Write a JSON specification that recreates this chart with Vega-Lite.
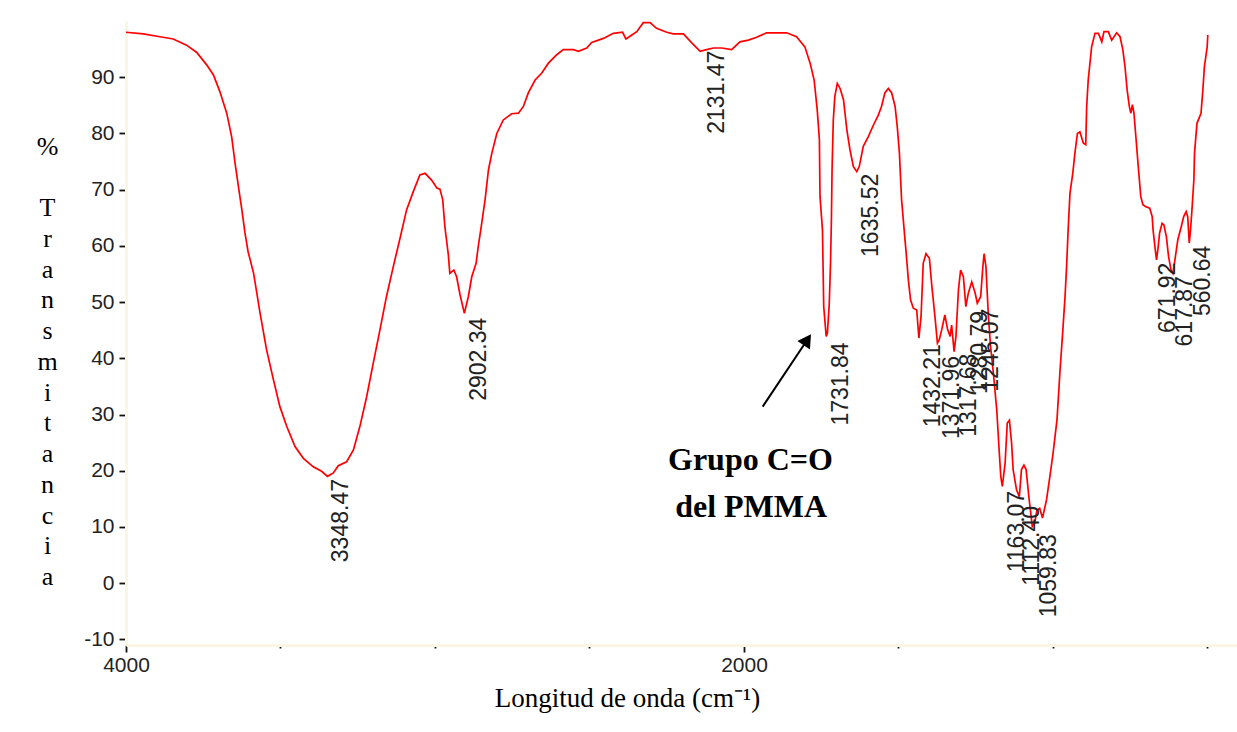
{
  "$schema": "https://vega.github.io/schema/vega-lite/v6.json",
  "width": 1111,
  "height": 624,
  "autosize": {"type": "none"},
  "padding": {"left": 126, "top": 21, "right": 0, "bottom": 87},
  "background": "white",
  "config": {"view": {"stroke": null}},
  "datasets": {
    "spectrum": [
      {"wn":4000,"T":98.0},{"wn":3944,"T":97.7},{"wn":3890,"T":97.2},{"wn":3847,"T":96.8},{"wn":3804,"T":95.7},
      {"wn":3771,"T":94.4},{"wn":3739,"T":92.2},{"wn":3717,"T":90.4},{"wn":3696,"T":87.4},{"wn":3674,"T":83.6},
      {"wn":3658,"T":79.4},{"wn":3647,"T":74.7},{"wn":3636,"T":70.5},{"wn":3625,"T":66.4},{"wn":3615,"T":62.3},
      {"wn":3605,"T":59.0},{"wn":3587,"T":55.1},{"wn":3566,"T":48.0},{"wn":3545,"T":41.5},{"wn":3523,"T":36.2},
      {"wn":3502,"T":31.4},{"wn":3480,"T":27.9},{"wn":3453,"T":24.3},{"wn":3426,"T":22.2},{"wn":3394,"T":20.7},
      {"wn":3367,"T":19.9},{"wn":3348,"T":19.0},{"wn":3329,"T":19.6},{"wn":3313,"T":20.9},{"wn":3286,"T":21.6},
      {"wn":3264,"T":23.7},{"wn":3243,"T":27.9},{"wn":3221,"T":33.2},{"wn":3200,"T":39.1},{"wn":3178,"T":45.1},
      {"wn":3157,"T":51.0},{"wn":3135,"T":56.3},{"wn":3113,"T":61.4},{"wn":3092,"T":66.4},{"wn":3070,"T":69.7},
      {"wn":3049,"T":72.6},{"wn":3032,"T":72.9},{"wn":3011,"T":71.7},{"wn":2994,"T":70.3},{"wn":2984,"T":70.1},
      {"wn":2975,"T":68.2},{"wn":2968,"T":63.4},{"wn":2957,"T":58.5},{"wn":2952,"T":55.1},{"wn":2939,"T":55.7},
      {"wn":2930,"T":54.5},{"wn":2919,"T":51.3},{"wn":2905,"T":48.0},{"wn":2892,"T":51.0},{"wn":2881,"T":54.5},
      {"wn":2867,"T":56.9},{"wn":2860,"T":59.9},{"wn":2852,"T":62.8},{"wn":2838,"T":68.2},{"wn":2827,"T":73.5},
      {"wn":2816,"T":76.5},{"wn":2800,"T":80.0},{"wn":2779,"T":82.4},{"wn":2752,"T":83.5},{"wn":2730,"T":83.6},
      {"wn":2714,"T":84.8},{"wn":2698,"T":87.2},{"wn":2676,"T":89.5},{"wn":2655,"T":90.7},{"wn":2633,"T":92.5},
      {"wn":2606,"T":94.0},{"wn":2585,"T":94.9},{"wn":2552,"T":94.9},{"wn":2536,"T":94.6},{"wn":2509,"T":95.2},
      {"wn":2493,"T":96.2},{"wn":2455,"T":96.9},{"wn":2423,"T":97.8},{"wn":2393,"T":98.0},{"wn":2382,"T":96.8},
      {"wn":2363,"T":97.5},{"wn":2347,"T":98.1},{"wn":2326,"T":99.7},{"wn":2304,"T":99.7},{"wn":2283,"T":98.7},
      {"wn":2250,"T":98.0},{"wn":2229,"T":97.7},{"wn":2196,"T":97.7},{"wn":2169,"T":96.1},{"wn":2142,"T":94.6},
      {"wn":2121,"T":94.9},{"wn":2099,"T":95.2},{"wn":2072,"T":95.2},{"wn":2040,"T":94.9},{"wn":2013,"T":96.3},
      {"wn":1986,"T":96.6},{"wn":1959,"T":97.1},{"wn":1927,"T":97.9},{"wn":1862,"T":97.9},{"wn":1830,"T":97.2},
      {"wn":1803,"T":95.4},{"wn":1786,"T":92.5},{"wn":1773,"T":89.5},{"wn":1763,"T":84.2},{"wn":1756,"T":78.9},
      {"wn":1754,"T":68.8},{"wn":1746,"T":62.8},{"wn":1742,"T":49.2},{"wn":1734,"T":43.9},{"wn":1730,"T":44.5},
      {"wn":1724,"T":49.8},{"wn":1720,"T":56.9},{"wn":1717,"T":65.0},{"wn":1715,"T":73.5},{"wn":1711,"T":82.4},
      {"wn":1706,"T":86.6},{"wn":1698,"T":88.9},{"wn":1689,"T":88.0},{"wn":1678,"T":86.0},{"wn":1667,"T":80.6},
      {"wn":1657,"T":77.1},{"wn":1646,"T":74.1},{"wn":1635,"T":73.2},{"wn":1627,"T":74.1},{"wn":1614,"T":77.7},
      {"wn":1598,"T":79.4},{"wn":1581,"T":81.5},{"wn":1565,"T":83.3},{"wn":1555,"T":84.8},{"wn":1544,"T":87.2},
      {"wn":1533,"T":88.0},{"wn":1522,"T":87.2},{"wn":1511,"T":84.8},{"wn":1504,"T":81.2},{"wn":1497,"T":76.5},
      {"wn":1490,"T":68.2},{"wn":1479,"T":61.1},{"wn":1476,"T":59.3},{"wn":1468,"T":53.9},{"wn":1461,"T":50.4},
      {"wn":1452,"T":48.9},{"wn":1441,"T":48.6},{"wn":1434,"T":43.6},{"wn":1427,"T":47.4},{"wn":1420,"T":56.9},
      {"wn":1411,"T":58.6},{"wn":1400,"T":57.8},{"wn":1392,"T":52.8},{"wn":1382,"T":47.4},{"wn":1374,"T":42.7},
      {"wn":1368,"T":43.3},{"wn":1360,"T":45.1},{"wn":1350,"T":47.7},{"wn":1341,"T":45.1},{"wn":1333,"T":43.9},
      {"wn":1328,"T":45.9},{"wn":1320,"T":41.2},{"wn":1314,"T":43.9},{"wn":1306,"T":52.2},{"wn":1299,"T":55.7},
      {"wn":1290,"T":54.5},{"wn":1282,"T":49.2},{"wn":1274,"T":51.6},{"wn":1263,"T":53.6},{"wn":1252,"T":51.6},
      {"wn":1245,"T":49.8},{"wn":1234,"T":51.0},{"wn":1227,"T":56.3},{"wn":1223,"T":58.6},{"wn":1217,"T":56.3},
      {"wn":1209,"T":47.4},{"wn":1202,"T":42.1},{"wn":1193,"T":37.4},{"wn":1182,"T":30.8},{"wn":1175,"T":24.3},
      {"wn":1169,"T":19.0},{"wn":1164,"T":17.2},{"wn":1155,"T":21.3},{"wn":1148,"T":28.5},{"wn":1141,"T":29.0},
      {"wn":1134,"T":24.9},{"wn":1129,"T":20.2},{"wn":1118,"T":16.6},{"wn":1109,"T":15.4},{"wn":1102,"T":20.2},
      {"wn":1094,"T":21.0},{"wn":1087,"T":20.2},{"wn":1077,"T":14.8},{"wn":1067,"T":10.1},{"wn":1059,"T":10.7},
      {"wn":1052,"T":13.0},{"wn":1043,"T":13.3},{"wn":1034,"T":11.6},{"wn":1021,"T":14.8},{"wn":1010,"T":19.0},
      {"wn":1000,"T":23.0},{"wn":987,"T":29.1},{"wn":977,"T":38.0},{"wn":968,"T":45.1},{"wn":961,"T":51.0},
      {"wn":956,"T":56.3},{"wn":951,"T":62.8},{"wn":945,"T":69.4},{"wn":936,"T":72.9},{"wn":929,"T":76.5},
      {"wn":921,"T":80.0},{"wn":913,"T":80.3},{"wn":902,"T":78.3},{"wn":894,"T":78.0},{"wn":891,"T":84.8},
      {"wn":886,"T":89.5},{"wn":875,"T":95.4},{"wn":864,"T":97.8},{"wn":853,"T":97.8},{"wn":842,"T":96.3},
      {"wn":835,"T":98.1},{"wn":821,"T":98.1},{"wn":810,"T":96.6},{"wn":794,"T":97.9},{"wn":783,"T":97.2},
      {"wn":774,"T":94.9},{"wn":767,"T":91.9},{"wn":760,"T":87.7},{"wn":753,"T":84.8},{"wn":748,"T":83.6},
      {"wn":743,"T":85.1},{"wn":738,"T":83.6},{"wn":731,"T":78.9},{"wn":724,"T":74.1},{"wn":716,"T":68.8},
      {"wn":709,"T":67.3},{"wn":701,"T":67.0},{"wn":687,"T":66.7},{"wn":679,"T":65.2},{"wn":676,"T":62.8},
      {"wn":669,"T":59.3},{"wn":665,"T":57.5},{"wn":660,"T":59.6},{"wn":655,"T":62.3},{"wn":647,"T":64.0},
      {"wn":641,"T":63.7},{"wn":633,"T":61.6},{"wn":626,"T":58.1},{"wn":618,"T":55.7},{"wn":612,"T":55.1},
      {"wn":607,"T":56.9},{"wn":596,"T":61.1},{"wn":585,"T":63.4},{"wn":577,"T":65.2},{"wn":569,"T":66.1},
      {"wn":564,"T":65.2},{"wn":559,"T":60.5},{"wn":555,"T":62.8},{"wn":551,"T":65.8},{"wn":544,"T":71.8},
      {"wn":542,"T":76.5},{"wn":534,"T":81.8},{"wn":521,"T":83.6},{"wn":515,"T":87.7},{"wn":510,"T":91.9},
      {"wn":501,"T":95.4},{"wn":499,"T":97.5}
    ],
    "peaks": [
      {"wn":3348.47,"T":18.7,"label":"3348.47"},
      {"wn":2902.34,"T":47.4,"label":"2902.34"},
      {"wn":2131.47,"T":94.9,"label":"2131.47"},
      {"wn":1731.84,"T":43.0,"label":"1731.84"},
      {"wn":1635.52,"T":73.0,"label":"1635.52"},
      {"wn":1432.21,"T":42.7,"label":"1432.21"},
      {"wn":1371.96,"T":40.6,"label":"1371.96"},
      {"wn":1317.68,"T":41.0,"label":"1317.68"},
      {"wn":1280.79,"T":48.6,"label":"1280.79"},
      {"wn":1245.07,"T":49.0,"label":"1245.07"},
      {"wn":1163.07,"T":16.6,"label":"1163.07"},
      {"wn":1112.40,"T":13.9,"label":"1112.40"},
      {"wn":1059.83,"T":8.9,"label":"1059.83"},
      {"wn":671.92,"T":57.2,"label":"671.92"},
      {"wn":617.87,"T":54.8,"label":"617.87"},
      {"wn":560.64,"T":60.2,"label":"560.64"}
    ],
    "note": [
      {"wn":1979,"T":20.2,"text":"Grupo C=O"},
      {"wn":1977,"T":11.85,"text":"del PMMA"}
    ],
    "arrow": [
      {"wn":1939.5,"T":31.4,"wn2":1795,"T2":43.3}
    ],
    "head": [
      {"wn":1795,"T":43.3}
    ]
  },
  "layer": [
    {
      "data": {"name": "spectrum"},
      "mark": {"type": "line", "color": "#ff0000", "strokeWidth": 1.7},
      "encoding": {
        "x": {
          "field": "wn", "type": "quantitative",
          "scale": {"domain": [404.5, 4000], "reverse": true, "nice": false, "zero": false},
          "axis": {
            "values": [4000, 3500, 3000, 2500, 2000, 1500, 1000, 500],
            "format": "d",
            "labelExpr": "datum.value == 4000 || datum.value == 2000 ? '' + datum.value : ''",
            "tickSize": {"condition": {"test": "datum.value == 4000 || datum.value == 2000", "value": 7}, "value": 3},
            "tickColor": "#111", "tickWidth": 1.8,
            "domainColor": "#fbf6e0", "domainWidth": 3,
            "labelFont": "Liberation Sans", "labelFontSize": 21, "labelColor": "#222", "labelPadding": 2,
            "labelFlush": false, "labelOverlap": false, "grid": false,
            "title": "Longitud de onda (cm⁻¹)",
            "titleFont": "Liberation Serif", "titleFontSize": 27, "titleFontWeight": "normal", "titleColor": "#000",
            "titleX": 501, "titleY": 61, "titleBaseline": "alphabetic", "titleAlign": "center"
          }
        },
        "y": {
          "field": "T", "type": "quantitative",
          "scale": {"domain": [-11, 100], "nice": false, "zero": false},
          "axis": {
            "values": [-10, -7.5, -5, -2.5, 0, 2.5, 5, 7.5, 10, 12.5, 15, 17.5, 20, 22.5, 25, 27.5, 30, 32.5, 35, 37.5, 40, 42.5, 45, 47.5, 50, 52.5, 55, 57.5, 60, 62.5, 65, 67.5, 70, 72.5, 75, 77.5, 80, 82.5, 85, 87.5, 90, 92.5, 95, 97.5],
            "labelExpr": "datum.value % 10 == 0 ? '' + datum.value : ''",
            "tickSize": {"condition": {"test": "datum.value % 10 == 0", "value": 7}, "value": 3},
            "tickColor": "#111", "tickWidth": 1.8,
            "domainColor": "#fbf6e0", "domainWidth": 3,
            "labelFont": "Liberation Sans", "labelFontSize": 21, "labelColor": "#222", "labelPadding": 5,
            "labelOverlap": false, "labelFlush": false, "grid": false,
            "title": ["%", "\u200b", "T", "r", "a", "n", "s", "m", "i", "t", "a", "n", "c", "i", "a"],
            "titleAngle": 0, "titleAlign": "center", "titleBaseline": "alphabetic",
            "titleX": -79, "titleY": 133,
            "titleFont": "Liberation Serif", "titleFontSize": 26, "titleFontWeight": "normal",
            "titleLineHeight": 30.75, "titleColor": "#000"
          }
        }
      }
    },
    {
      "data": {"name": "peaks"},
      "mark": {"type": "text", "angle": 270, "align": "right", "baseline": "top", "dx": -1, "dy": 3, "font": "Liberation Sans", "fontSize": 23, "color": "#222"},
      "encoding": {
        "x": {"field": "wn", "type": "quantitative"},
        "y": {"field": "T", "type": "quantitative"},
        "text": {"field": "label"}
      }
    },
    {
      "data": {"name": "arrow"},
      "mark": {"type": "rule", "strokeWidth": 2, "color": "#000"},
      "encoding": {
        "x": {"field": "wn", "type": "quantitative"},
        "x2": {"field": "wn2"},
        "y": {"field": "T", "type": "quantitative"},
        "y2": {"field": "T2"}
      }
    },
    {
      "data": {"name": "head"},
      "mark": {"type": "point", "shape": "triangle-up", "filled": true, "size": 230, "angle": 34, "color": "#000", "opacity": 1},
      "encoding": {
        "x": {"field": "wn", "type": "quantitative"},
        "y": {"field": "T", "type": "quantitative"}
      }
    },
    {
      "data": {"name": "note"},
      "mark": {"type": "text", "font": "Liberation Serif", "fontSize": 32, "fontWeight": "bold", "align": "center", "baseline": "alphabetic", "color": "#000"},
      "encoding": {
        "x": {"field": "wn", "type": "quantitative"},
        "y": {"field": "T", "type": "quantitative"},
        "text": {"field": "text"}
      }
    }
  ]
}
